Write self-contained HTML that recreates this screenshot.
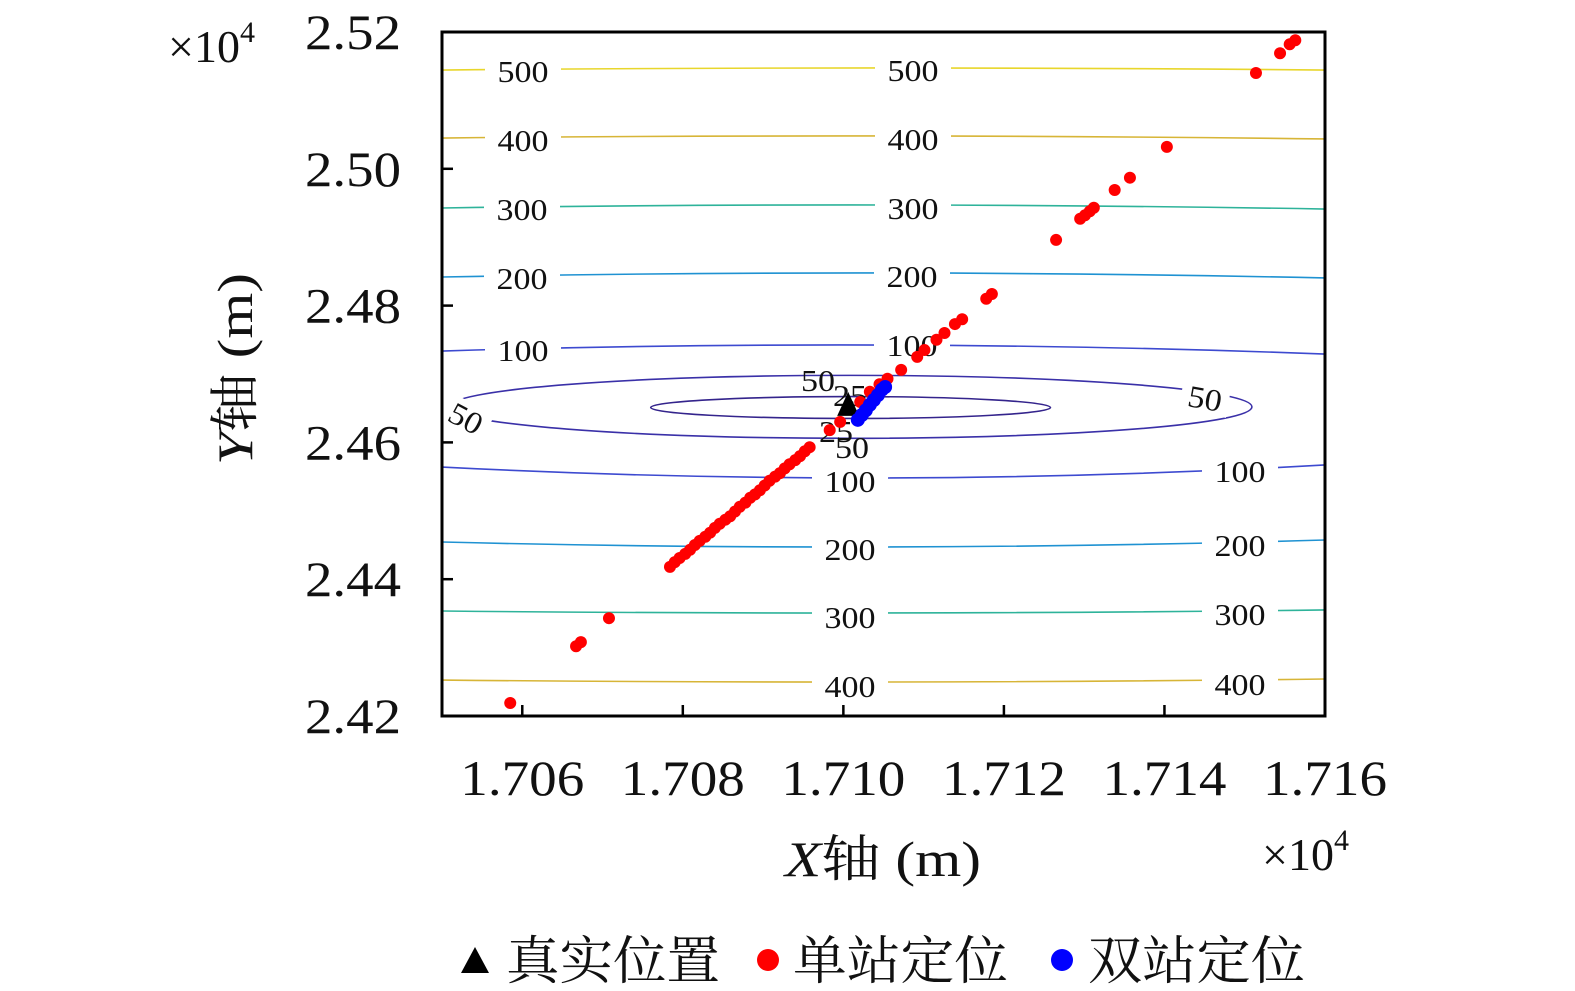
<!DOCTYPE html>
<html><head><meta charset="utf-8"><style>
body{margin:0;background:#fff;width:1575px;height:991px;overflow:hidden;position:relative}
svg{display:block}
.t{font-family:"Liberation Serif","Noto Serif CJK SC",serif;fill:#111}
</style></head><body>
<svg id="chart" width="1575" height="991"></svg>
<script>
// ---- data ----
const xTicks=[1.706,1.708,1.710,1.712,1.714,1.716];
const xTickLabels=["1.706","1.708","1.710","1.712","1.714","1.716"];
const yTicks=[2.42,2.44,2.46,2.48,2.50,2.52];
const yTickLabels=["2.42","2.44","2.46","2.48","2.50","2.52"];
const redX=[1.70585,1.70667,1.70673,1.70708,1.70784,1.70790,1.70796,1.70803,1.70809,1.70815,1.70821,1.70828,1.70834,1.70840,1.70846,1.70853,1.70859,1.70865,1.70871,1.70878,1.70884,1.70890,1.70896,1.70902,1.70908,1.70915,1.70921,1.70927,1.70933,1.70940,1.70946,1.70952,1.70958,1.70983,1.70996,1.71021,1.71033,1.71045,1.71055,1.71072,1.71092,1.71101,1.71116,1.71126,1.71139,1.71148,1.71178,1.71185,1.71265,1.71295,1.71301,1.71307,1.71312,1.71338,1.71357,1.71403,1.71514,1.71544,1.71556,1.71563];
const redY=[2.4219,2.4302,2.4308,2.4343,2.4418,2.4425,2.4431,2.4437,2.4443,2.4450,2.4456,2.4462,2.4468,2.4475,2.4481,2.4487,2.4492,2.4499,2.4506,2.4512,2.4519,2.4524,2.4530,2.4537,2.4544,2.4550,2.4555,2.4562,2.4568,2.4574,2.4580,2.4587,2.4593,2.4618,2.4630,2.4659,2.4674,2.4685,2.4693,2.4706,2.4725,2.4735,2.4750,2.4760,2.4773,2.4780,2.4810,2.4817,2.4896,2.4927,2.4932,2.4938,2.4943,2.4969,2.4987,2.5032,2.5140,2.5169,2.5182,2.5188];
const blueX=[1.71018,1.71023,1.71028,1.71033,1.71038,1.71043,1.71048,1.71052];
const blueY=[2.4633,2.4640,2.4647,2.4655,2.4662,2.4669,2.4677,2.4681];
const trueX=[1.71006];
const trueY=[2.4652];
// contour lines: y at left edge, middle, right edge
const levels=[500,400,300,200,100,100,200,300,400];
const levelYL=[2.51444,2.50450,2.49427,2.48418,2.47336,2.45640,2.44544,2.43535,2.42526];
const levelYM=[2.51474,2.50480,2.49471,2.48477,2.47424,2.45480,2.44471,2.43506,2.42497];
const levelYR=[2.51444,2.50436,2.49412,2.48404,2.47292,2.45670,2.44573,2.43550,2.42541];
const ellLevels=[50,25];
const ellCx=[1.71009,1.71009];
const ellCy=[2.4652,2.4651];
const ellRx=[0.00500,0.00249];
const ellRy=[0.00460,0.00160];
// ---- scales ----
const X0=442,X1=1325,Y0=32,Y1=716,XMIN=1.705,XMAX=1.716,YMIN=2.42,YMAX=2.52;
const sx=v=>X0+(v-XMIN)/(XMAX-XMIN)*(X1-X0);
const sy=v=>Y1-(v-YMIN)/(YMAX-YMIN)*(Y1-Y0);
const NS="http://www.w3.org/2000/svg";
const svg=document.getElementById('chart');
function mk(tag,attrs,parent){const e=document.createElementNS(NS,tag);for(const k in attrs)e.setAttribute(k,attrs[k]);(parent||svg).appendChild(e);return e;}
const colors={500:"#e8d62c",400:"#d7b537",300:"#2eb39a",200:"#1f92d2",100:"#3d4ad0",50:"#3a30a8",25:"#34248c"};
const plot=mk('g',{});


const cg=mk('g',{},plot);


levels.forEach((L,i)=>{
  const xm=1.7105;
  const yl=sy(levelYL[i]),ym=sy(levelYM[i]),yr=sy(levelYR[i]);
  const cy=2*ym-(yl+yr)/2;
  const p=mk('path',{d:`M${X0},${yl} Q${sx(xm)},${cy} ${X1},${yr}`,fill:"none",stroke:colors[L],"stroke-width":1.6},cg);
  
  
});
ellLevels.forEach((L,i)=>{
  const cx=sx(ellCx[i]),cy=sy(ellCy[i]);
  const rx=sx(ellCx[i]+ellRx[i])-cx, ry=(sy(ellCy[i]-ellRy[i])-cy);
  const e=mk('ellipse',{cx:cx,cy:cy,rx:rx,ry:ry,fill:"none",stroke:colors[L],"stroke-width":1.6},cg);
  
  
});
const labs=[[523,71,"500",0],[523,140,"400",0],[522,209,"300",0],[522,278,"200",0],[523,350,"100",0],
[913,70,"500",0],[913,139,"400",0],[913,208,"300",0],[912,276,"200",0],[912,345,"100",0],
[850,481,"100",0],[850,549,"200",0],[850,617,"300",0],[850,686,"400",0],
[1240,471,"100",0],[1240,545,"200",0],[1240,614,"300",0],[1240,684,"400",0],
[818,380,"50",0],[852,447,"50",0],[466,418,"50",28],[1205,398,"50",10],[850,395,"25",0],[836,431,"25",0]];
labs.forEach(l=>{
  const g=mk('g',{transform:`translate(${l[0]},${l[1]}) rotate(${l[3]})`},plot);
  
  
  if(l[2].length==3) mk('rect',{x:-38,y:-16,width:76,height:32,fill:"#fff"},g);
  else if(l[3]!==0) mk('rect',{x:-24,y:-16,width:48,height:32,fill:"#fff"},g);
  const w=l[2].length==3?51:34;
  const t=mk('text',{x:-w/2,y:11,"font-size":31,class:"t",textLength:w,lengthAdjust:"spacingAndGlyphs"},g);
  t.textContent=l[2];
});
const rg=mk('g',{},plot);


redX.forEach((x,i)=>{const c=mk('circle',{cx:sx(x),cy:sy(redY[i]),r:6,fill:"#f00"},rg);
  
  });
trueX.forEach((x,i)=>{const X=sx(x),Y=sy(trueY[i]);
  const p=mk('polygon',{points:`${X},${Y-15} ${X-11},${Y+9} ${X+11},${Y+9}`,fill:"#000"},plot);
  
  });
const bg=mk('g',{},plot);


blueX.forEach((x,i)=>{const c=mk('circle',{cx:sx(x),cy:sy(blueY[i]),r:7,fill:"#00f"},bg);
  
  });
const fr=mk('rect',{x:X0,y:Y0,width:X1-X0,height:Y1-Y0,fill:"none",stroke:"#000","stroke-width":3});


xTicks.forEach((v,i)=>{const X=sx(v);
  const l=mk('line',{x1:X,x2:X,y1:Y1,y2:Y1-11,stroke:"#000","stroke-width":2.5});
  
  
  const t=mk('text',{x:X-62,y:795,"font-size":50,class:"t",textLength:124,lengthAdjust:"spacingAndGlyphs"});
  
  
  t.textContent=xTickLabels[i];});
yTicks.forEach((v,i)=>{const Y=sy(v);
  const l=mk('line',{x1:X0,x2:X0+11,y1:Y,y2:Y,stroke:"#000","stroke-width":2.5});
  
  
  const t=mk('text',{x:305,y:Y+17,"font-size":50,class:"t",textLength:96,lengthAdjust:"spacingAndGlyphs"});
  
  
  t.textContent=yTickLabels[i];});
</script>
<svg style="position:absolute;left:0;top:0" width="1575" height="991">
<text class="t" x="168" y="62" font-size="46">×10<tspan font-size="30" dy="-20">4</tspan></text>
<text class="t" x="1262" y="870" font-size="46">×10<tspan font-size="30" dy="-20">4</tspan></text>
<text class="t" x="785" y="876" font-size="50" textLength="196" lengthAdjust="spacingAndGlyphs"><tspan font-style="italic">X</tspan>轴 (m)</text>
<text class="t" transform="translate(252,465) rotate(-90)" font-size="50" textLength="192" lengthAdjust="spacingAndGlyphs"><tspan font-style="italic">Y</tspan>轴 (m)</text>
<g>
<g><polygon points="475,947 461,973 489,973" fill="#000"/><text class="t" x="506" y="979" font-size="52" textLength="214" lengthAdjust="spacingAndGlyphs">真实位置</text></g>
<g><circle cx="768" cy="960" r="11" fill="#f00"/><text class="t" x="793" y="979" font-size="52" textLength="215" lengthAdjust="spacingAndGlyphs">单站定位</text></g>
<g><circle cx="1062" cy="960" r="11" fill="#00f"/><text class="t" x="1088" y="979" font-size="52" textLength="217" lengthAdjust="spacingAndGlyphs">双站定位</text></g>
</g>
</svg>
</body></html>
